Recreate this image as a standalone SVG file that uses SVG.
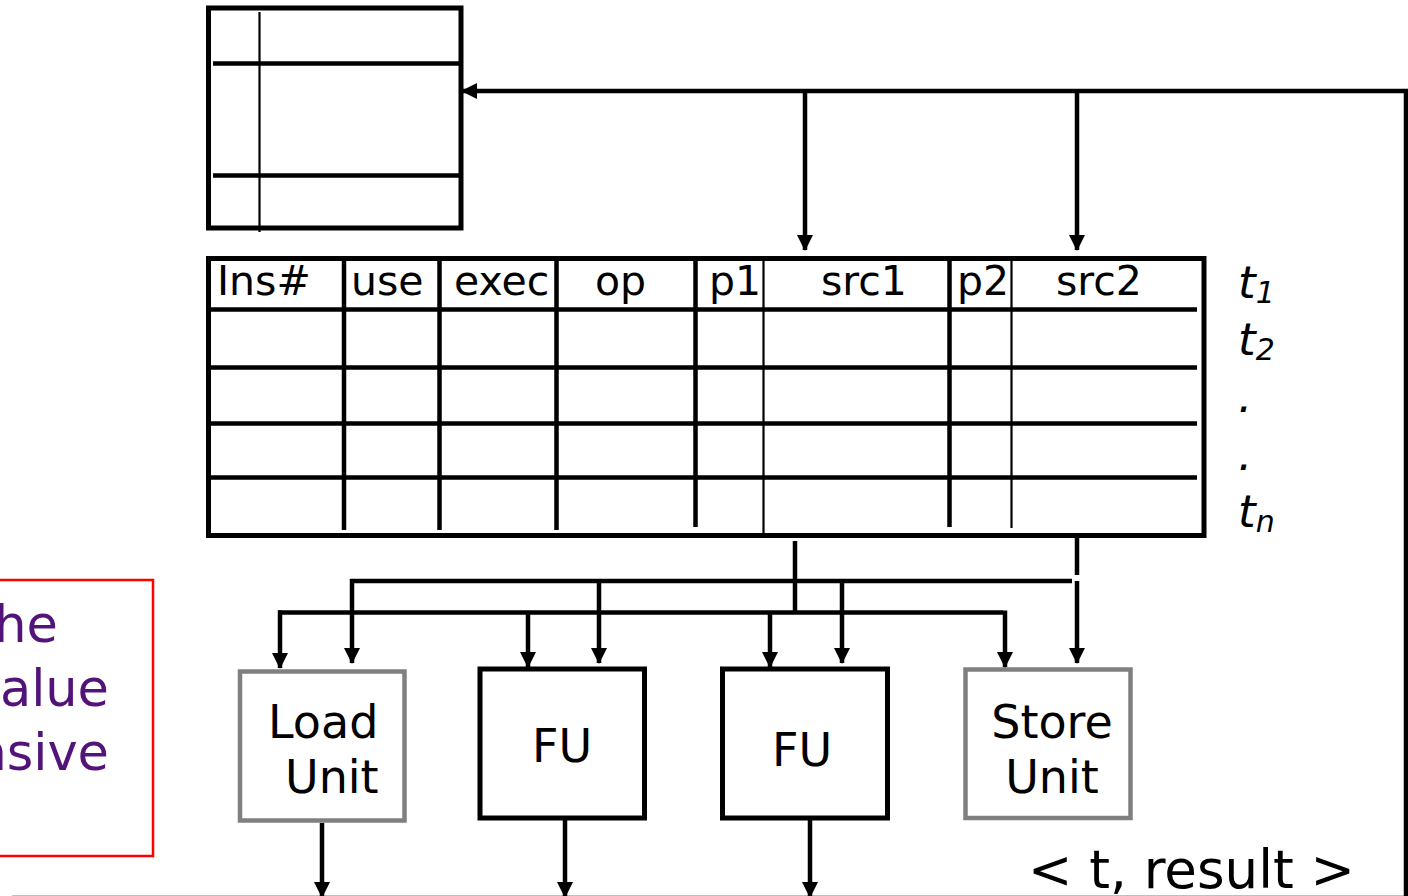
<svg xmlns="http://www.w3.org/2000/svg" width="1408" height="896" viewBox="0 0 1408 896">
<style>
.bx{fill:none;stroke:#000;stroke-width:5}
.ln{stroke:#000;stroke-width:4.5;fill:none}
.thin{stroke:#000;stroke-width:2.2;fill:none}
.cn{stroke:#000;stroke-width:4.5;fill:none}
.ar{marker-end:url(#ah)}
.hd{font-family:"DejaVu Sans",Verdana,sans-serif;font-size:41px;fill:#000}
.lb{font-family:"DejaVu Sans",Verdana,sans-serif;font-size:46px;fill:#000}
.rs{font-family:"DejaVu Sans",Verdana,sans-serif;font-size:53px;fill:#000}
.tl{font-family:"DejaVu Sans",Verdana,sans-serif;font-style:italic;font-size:45px;fill:#000}
.pt{font-family:"DejaVu Sans",Verdana,sans-serif;font-size:51px;fill:#521479}
</style>
<defs>
<marker id="ah" markerUnits="userSpaceOnUse" markerWidth="16" markerHeight="16" refX="15" refY="8" orient="auto">
<path d="M0,0 L16,8 L0,16 z" fill="#000"/>
</marker>
</defs>
<rect width="1408" height="896" fill="#fff"/>

<g id="note">
<rect x="-5" y="580" width="158" height="276" fill="none" stroke="#ff0000" stroke-width="2.5"/>
<text class="pt" x="58" y="642" text-anchor="end">he</text>
<text class="pt" x="109" y="706" text-anchor="end">alue</text>
<text class="pt" x="109" y="770" text-anchor="end">nsive</text>
</g>

<g id="regfile">
<rect class="bx" x="208.5" y="8" width="252.5" height="220"/>
<line class="ln" x1="213" y1="63.5" x2="460" y2="63.5"/>
<line class="ln" x1="213" y1="175.5" x2="460" y2="175.5"/>
<line class="thin" x1="259.5" y1="12" x2="259.5" y2="232"/>
</g>

<g id="table">
<rect class="bx" x="208.5" y="258.5" width="995.5" height="277"/>
<line class="ln" x1="210" y1="309.5" x2="1197" y2="309.5"/>
<line class="ln" x1="210" y1="367.5" x2="1197" y2="367.5"/>
<line class="ln" x1="210" y1="423.5" x2="1197" y2="423.5"/>
<line class="ln" x1="210" y1="477.5" x2="1197" y2="477.5"/>
<line class="ln" x1="344" y1="258" x2="344" y2="530"/>
<line class="ln" x1="439.5" y1="258" x2="439.5" y2="530"/>
<line class="ln" x1="556.5" y1="258" x2="556.5" y2="530"/>
<line class="ln" x1="695.5" y1="258" x2="695.5" y2="527"/>
<line class="thin" x1="763.5" y1="258" x2="763.5" y2="534"/>
<line class="ln" x1="949.5" y1="258" x2="949.5" y2="527"/>
<line class="thin" x1="1011.5" y1="258" x2="1011.5" y2="528"/>
<text class="hd" x="217" y="295">Ins#</text>
<text class="hd" x="351" y="295">use</text>
<text class="hd" x="454" y="295">exec</text>
<text class="hd" x="595" y="295">op</text>
<text class="hd" x="709" y="295">p1</text>
<text class="hd" x="821" y="295">src1</text>
<text class="hd" x="957" y="295">p2</text>
<text class="hd" x="1056" y="295">src2</text>
</g>

<g id="tags">
<text class="tl" x="1238" y="298">t<tspan font-size="30" dy="5">1</tspan></text>
<text class="tl" x="1238" y="355">t<tspan font-size="30" dy="5">2</tspan></text>
<text class="tl" x="1238" y="412">.</text>
<text class="tl" x="1238" y="470">.</text>
<text class="tl" x="1238" y="527">t<tspan font-size="30" dy="5">n</tspan></text>
</g>

<g id="load-unit">
<rect x="240" y="671.5" width="164.5" height="149" fill="none" stroke="#808080" stroke-width="4.5"/>
<text class="lb" x="268" y="738">Load</text>
<text class="lb" x="285" y="793">Unit</text>
</g>
<g id="fu1">
<rect class="bx" x="480" y="669" width="164.5" height="149"/>
<text class="lb" x="562" y="762" text-anchor="middle">FU</text>
</g>
<g id="fu2">
<rect class="bx" x="722.5" y="669" width="165" height="149"/>
<text class="lb" x="802" y="766" text-anchor="middle">FU</text>
</g>
<g id="store-unit">
<rect x="965.5" y="669.5" width="165" height="148.5" fill="none" stroke="#808080" stroke-width="4.5"/>
<text class="lb" x="1052" y="738" text-anchor="middle">Store</text>
<text class="lb" x="1052" y="793" text-anchor="middle">Unit</text>
</g>

<g id="result-label">
<text class="rs" x="1028" y="888">&lt; t, result &gt;</text>
</g>

<g id="connectors">
<path class="cn" d="M12,898 H1406 V91 H462" stroke-width="5" marker-end="url(#ah)"/>
<line class="cn ar" x1="805" y1="91" x2="805" y2="250"/>
<line class="cn ar" x1="1077" y1="91" x2="1077" y2="250"/>
<line class="cn" x1="795" y1="541" x2="795" y2="611"/>
<line class="cn" x1="1077" y1="538" x2="1077" y2="575"/>
<line class="cn ar" x1="1077" y1="581" x2="1077" y2="663"/>
<line class="cn" x1="350" y1="581" x2="1072" y2="581"/>
<line class="cn" x1="278" y1="612.5" x2="1003" y2="612.5"/>
<line class="cn ar" x1="352" y1="579" x2="352" y2="663"/>
<line class="cn ar" x1="599" y1="581" x2="599" y2="663"/>
<line class="cn ar" x1="842" y1="581" x2="842" y2="663"/>
<line class="cn ar" x1="280" y1="610.5" x2="280" y2="668"/>
<line class="cn ar" x1="528" y1="612.5" x2="528" y2="667"/>
<line class="cn ar" x1="770" y1="612.5" x2="770" y2="667"/>
<line class="cn ar" x1="1005" y1="610.5" x2="1005" y2="667"/>
<line class="cn ar" x1="322" y1="823" x2="322" y2="897"/>
<line class="cn ar" x1="565" y1="820" x2="565" y2="897"/>
<line class="cn ar" x1="810" y1="820" x2="810" y2="897"/>
</g>
</svg>
